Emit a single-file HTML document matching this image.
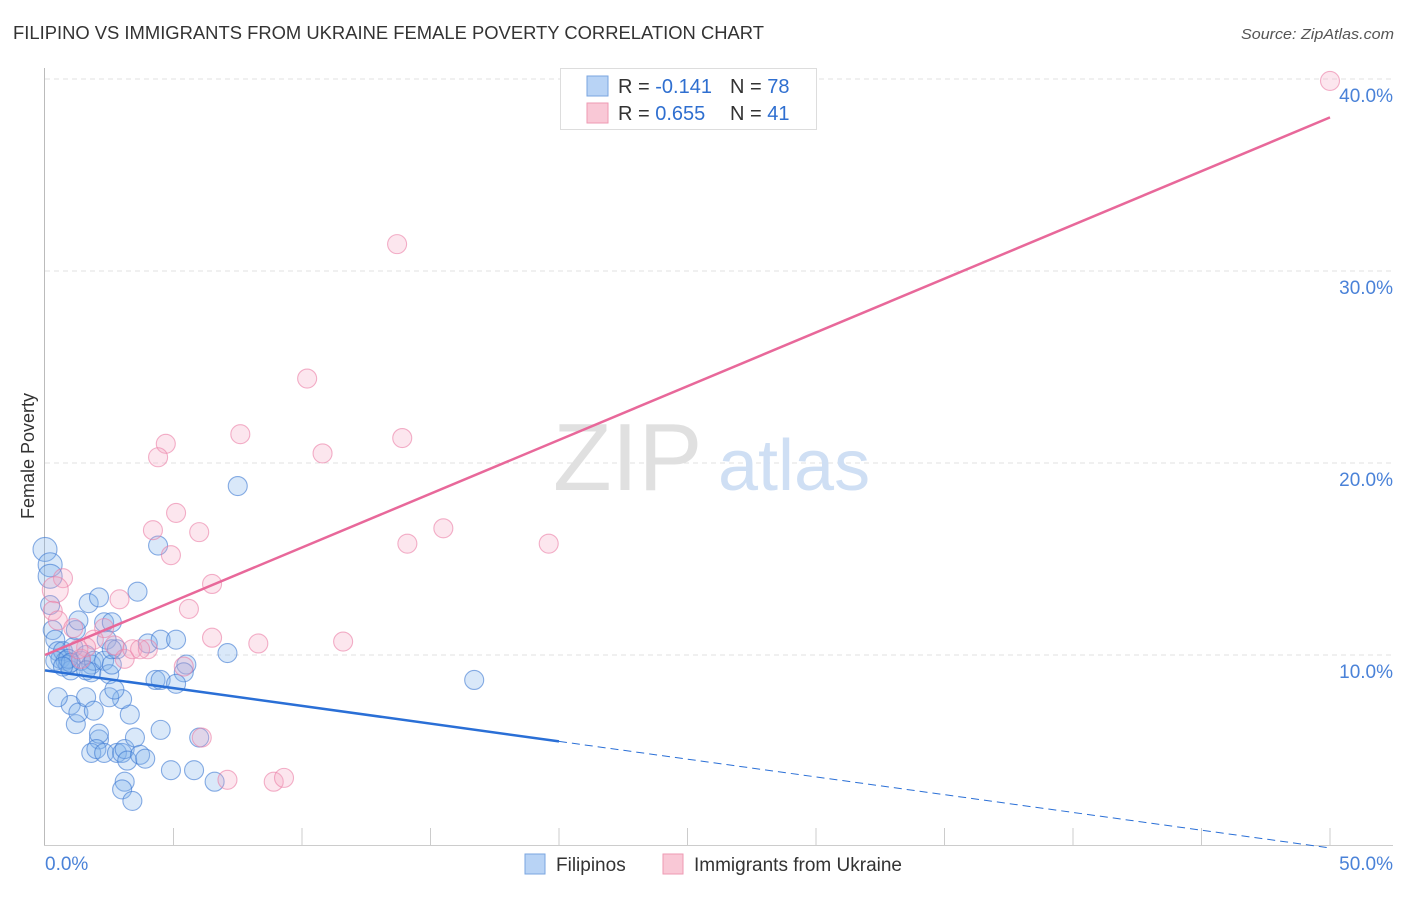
<!DOCTYPE html>
<html><head><meta charset="utf-8"><style>
body{margin:0;background:#fff;font-family:"Liberation Sans",sans-serif;}
svg text{font-family:"Liberation Sans",sans-serif;}
</style></head><body>
<svg id="chart" width="1406" height="892" viewBox="0 0 1406 892" xmlns="http://www.w3.org/2000/svg">
<text x="13" y="39" font-size="18" fill="#333" textLength="751" lengthAdjust="spacingAndGlyphs">FILIPINO VS IMMIGRANTS FROM UKRAINE FEMALE POVERTY CORRELATION CHART</text>
<text x="1241" y="39" font-size="15" fill="#555" font-style="italic" textLength="153" lengthAdjust="spacingAndGlyphs">Source: ZipAtlas.com</text>
<g id="grid"></g>
<g>
<text x="553" y="490" font-size="96" fill="#e0e0e0" font-family="Liberation Serif, serif">ZIP</text>
<text x="718" y="490" font-size="72" fill="#cfdff4">atlas</text>
</g>
<line x1="44.5" y1="68" x2="44.5" y2="845" stroke="#bbb"/>
<line x1="44" y1="845.5" x2="1393" y2="845.5" stroke="#ccc"/>
<text transform="translate(34,456) rotate(-90)" font-size="18" fill="#333" text-anchor="middle">Female Poverty</text>
<g id="ticks"></g>
<g id="points"></g>
<g id="trends"></g>
<g>
<rect x="560.5" y="68.5" width="256" height="61" fill="#fff" stroke="#ddd"/>
<rect x="587" y="76" width="21" height="20" fill="#b8d3f5" stroke="#7aa6e0"/>
<rect x="587" y="103" width="21" height="20" fill="#f9c8d6" stroke="#ee9ab3"/>
<text x="618" y="93" font-size="20" fill="#333">R = <tspan fill="#2f6fd0">-0.141</tspan></text>
<text x="730" y="93" font-size="20" fill="#333">N = <tspan fill="#2f6fd0">78</tspan></text>
<text x="618" y="120" font-size="20" fill="#333">R = <tspan fill="#2f6fd0">0.655</tspan></text>
<text x="730" y="120" font-size="20" fill="#333">N = <tspan fill="#2f6fd0"> 41</tspan></text>
</g>
<g>
<rect x="525" y="854" width="20" height="20" fill="#b8d3f5" stroke="#7aa6e0"/>
<text x="556" y="871" font-size="19" fill="#333">Filipinos</text>
<rect x="663" y="854" width="20" height="20" fill="#f9c8d6" stroke="#ee9ab3"/>
<text x="694" y="871" font-size="19" fill="#333">Immigrants from Ukraine</text>
</g>
</svg>
<script>
const blueX=[0.0,0.2,0.2,0.2,0.3,0.4,0.5,0.6,0.7,0.8,0.9,1.0,1.1,1.2,1.4,1.6,1.7,1.8,1.8,1.9,2.1,2.3,2.4,2.3,2.6,2.5,2.6,2.8,3.6,4.0,4.5,5.1,5.5,5.4,4.4,7.5,7.1,16.7,1.0,1.2,1.3,1.6,1.9,2.1,2.1,1.8,2.0,2.3,2.8,3.0,3.1,3.2,3.3,3.0,2.5,3.5,3.7,3.9,4.5,4.9,5.8,6.6,3.1,3.0,3.4,4.3,4.5,5.1,2.7,2.6,0.5,6.0,1.3,0.4,0.9,1.6,1.0,0.7];
const blueY=[15.5,14.7,14.1,12.6,11.3,10.8,10.2,9.8,10.2,9.7,9.5,9.2,10.4,11.3,9.7,10.0,12.7,9.5,9.1,9.7,13.0,9.7,10.8,11.7,11.7,9.0,9.5,10.3,13.3,10.6,10.8,10.8,9.5,9.1,15.7,18.8,10.1,8.7,7.4,6.4,7.0,7.8,7.1,5.6,5.9,4.9,5.1,4.9,4.9,4.9,5.1,4.5,6.9,7.7,7.8,5.7,4.8,4.6,6.1,4.0,4.0,3.4,3.4,3.0,2.4,8.7,8.7,8.5,8.2,10.3,7.8,5.7,11.8,9.7,9.8,9.2,9.6,9.4];
const pinkX=[50.0,13.7,10.2,7.6,13.9,4.7,4.4,10.8,5.1,4.2,6.0,15.5,14.1,19.6,4.9,6.5,0.7,0.4,0.3,0.5,2.9,5.6,1.1,6.5,8.3,11.6,2.3,1.9,1.6,1.4,2.7,3.1,3.4,4.0,5.4,6.1,7.1,8.9,9.3,1.3,3.7];
const pinkY=[39.9,31.4,24.4,21.5,21.3,21.0,20.3,20.5,17.4,16.5,16.4,16.6,15.8,15.8,15.2,13.7,14.0,13.4,12.3,11.8,12.9,12.4,11.4,10.9,10.6,10.7,11.4,10.8,10.4,9.8,10.5,9.8,10.3,10.3,9.4,5.7,3.5,3.4,3.6,10.3,10.3];
const yTicks=[10,20,30,40];
const yTickLabels=["10.0%","20.0%","30.0%","40.0%"];
const xTicks=[5,10,15,20,25,30,35,40,45,50];
const blueTrend=[9.2,-0.185];
const pinkTrend=[10.0,0.56];
const blueSolidEnd=20;

const NS="http://www.w3.org/2000/svg";
const sx=v=>45+v*25.7, sy=v=>847-v*19.2;
function mk(tag,attrs,parent){const e=document.createElementNS(NS,tag);for(const k in attrs)e.setAttribute(k,attrs[k]);parent.appendChild(e);return e;}
const grid=document.getElementById('grid'), ticks=document.getElementById('ticks');
yTicks.forEach((t,i)=>{
  const l=mk('line',{x1:45,x2:1393,y1:sy(t),y2:sy(t),stroke:'#e2e2e2','stroke-dasharray':'5,4'},grid);
  
  
  const tx=mk('text',{x:1393,y:sy(t)+23,'font-size':19,fill:'#4a82d8','text-anchor':'end'},ticks);
  tx.textContent=yTickLabels[i];
  
  
});
xTicks.forEach(t=>{
  const l=mk('line',{x1:sx(t),x2:sx(t),y1:828,y2:845,stroke:'#ccc'},ticks);
  
  
});
const xl0=mk('text',{x:45,y:870,'font-size':19,fill:'#4a82d8'},ticks);xl0.textContent='0.0%';


const xl1=mk('text',{x:1393,y:870,'font-size':19,fill:'#4a82d8','text-anchor':'end'},ticks);xl1.textContent='50.0%';


const pts=document.getElementById('points');
blueX.forEach((x,i)=>{
  const r=(x<0.3&&blueY[i]>13)?12:9.5;
  const c=mk('circle',{cx:sx(x),cy:sy(blueY[i]),r:r,fill:'rgba(130,178,235,0.3)',stroke:'rgba(60,120,210,0.6)','stroke-width':1.1},pts);
  
  
});
pinkX.forEach((x,i)=>{
  const r=(x<0.5&&pinkY[i]>13)?13:9.5;
  const c=mk('circle',{cx:sx(x),cy:sy(pinkY[i]),r:r,fill:'rgba(245,165,195,0.28)',stroke:'rgba(235,125,165,0.6)','stroke-width':1.1},pts);
  
  
});
const tr=document.getElementById('trends');
const bl=mk('line',{x1:sx(0),y1:sy(blueTrend[0]),x2:sx(blueSolidEnd),y2:sy(blueTrend[0]+blueTrend[1]*blueSolidEnd),stroke:'#2a6fd6','stroke-width':2.5},tr);


const bd=mk('line',{x1:sx(blueSolidEnd),y1:sy(blueTrend[0]+blueTrend[1]*blueSolidEnd),x2:sx(50),y2:sy(blueTrend[0]+blueTrend[1]*50),stroke:'#2a6fd6','stroke-width':1,'stroke-dasharray':'8,5'},tr);


const pl=mk('line',{x1:sx(0),y1:sy(pinkTrend[0]),x2:sx(50),y2:sy(pinkTrend[0]+pinkTrend[1]*50),stroke:'#e8689a','stroke-width':2.5},tr);


</script>
</body></html>
